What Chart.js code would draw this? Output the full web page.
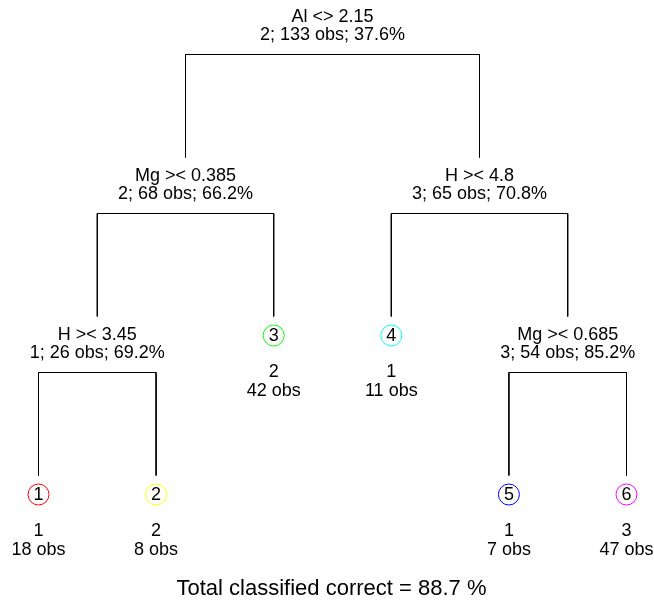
<!DOCTYPE html>
<html><head><meta charset="utf-8">
<script src="https://cdn.jsdelivr.net/npm/chart.js@4/dist/chart.umd.min.js"></script>
<style>html,body{margin:0;padding:0;background:#fff}#wrap{width:654px;height:603px;position:relative}</style>
</head><body><div id="wrap"><canvas id="c"></canvas></div>
<script>
// Tree nodes use R's numbering: children of node n are 2n and 2n+1
const splitNodes = [1, 2, 3, 4, 7];
const splitRules = ["Al <> 2.15", "Mg >< 0.385", "H >< 4.8", "H >< 3.45", "Mg >< 0.685"];
const splitClass = [2, 2, 3, 1, 3];
const splitObs = [133, 68, 65, 26, 54];
const splitPct = ["37.6", "66.2", "70.8", "69.2", "85.2"];

const leafNodes = [8, 9, 5, 6, 14, 15];   // left-to-right
const leafNumbers = [1, 2, 3, 4, 5, 6];
const leafClass = [1, 2, 2, 1, 1, 3];
const leafObs = [18, 8, 42, 11, 7, 47];
const leafColors = ["#FF0000", "#FFFF00", "#00FF00", "#00FFFF", "#0000FF", "#FF00FF"];

const totalCorrect = "88.7";

// ---- layout helpers (from structure) ----
const xPos = {};
leafNodes.forEach((id, i) => { xPos[id] = i + 1; });
function xOf(id) {
  if (xPos[id] !== undefined) return xPos[id];
  const v = (xOf(2 * id) + xOf(2 * id + 1)) / 2;
  xPos[id] = v; return v;
}
const depthOf = id => Math.floor(Math.log2(id));

const LEVEL_PX = 159, TOP_PX = 54.5, UNIT_PX = 117.6, LEFT_PX = 38.5;
const W = 654, H = 603;
const px2lvl = p => p / LEVEL_PX;

const datasets = [];
splitNodes.forEach(p => {
  const l = 2 * p, r = 2 * p + 1, d = depthOf(p);
  const seg = pts => datasets.push({
    type: 'scatter', showLine: true, data: pts, borderColor: '#000', borderWidth: 1,
    pointRadius: 0, pointHoverRadius: 0, fill: false, tension: 0
  });
  seg([{x: xOf(l), y: d}, {x: xOf(r), y: d}]);
  [l, r].forEach(c => seg([{x: xOf(c), y: d}, {x: xOf(c), y: depthOf(c) - px2lvl(56)}]));
});
datasets.push({
  type: 'scatter',
  data: leafNodes.map(id => ({x: xOf(id), y: depthOf(id) - px2lvl(37)})),
  pointRadius: 10.5, pointHoverRadius: 10.5, pointBorderWidth: 1, pointHoverBorderWidth: 1,
  pointBorderColor: leafColors, pointBackgroundColor: 'rgba(255,255,255,0)', showLine: false
});

const FONT = '18px "Liberation Sans", Arial, Helvetica, sans-serif';
const textPlugin = {
  id: 'treeText',
  afterDatasetsDraw(chart) {
    const {ctx, scales: {x, y}} = chart;
    ctx.save();
    ctx.fillStyle = '#000';
    ctx.textAlign = 'center';
    ctx.textBaseline = 'middle';
    ctx.font = FONT;
    splitNodes.forEach((id, i) => {
      const cx = x.getPixelForValue(xOf(id));
      const a = y.getPixelForValue(depthOf(id));
      ctx.fillText(splitRules[i], cx, a - 37);
      ctx.fillText(splitClass[i] + "; " + splitObs[i] + " obs; " + splitPct[i] + "%", cx, a - 19.5);
    });
    leafNodes.forEach((id, i) => {
      const cx = x.getPixelForValue(xOf(id));
      const a = y.getPixelForValue(depthOf(id));
      ctx.fillText(String(leafNumbers[i]), cx, a - 36.5);
      ctx.fillText(String(leafClass[i]), cx, a);
      ctx.fillText(leafObs[i] + " obs", cx, a + 18.5);
    });
    ctx.font = '22px "Liberation Sans", Arial, Helvetica, sans-serif';
    ctx.fillText("Total classified correct = " + totalCorrect + " %", x.getPixelForValue(xOf(1)) - 1, 589);
    ctx.restore();
  }
};

new Chart(document.getElementById('c'), {
  type: 'scatter',
  data: {datasets},
  options: {
    responsive: true, maintainAspectRatio: false, animation: false, devicePixelRatio: 1,
    events: [],
    layout: {padding: 0, autoPadding: false},
    plugins: {legend: {display: false}, tooltip: {enabled: false}},
    scales: {
      x: {type: 'linear', display: false, min: 1 - LEFT_PX / UNIT_PX, max: 1 - LEFT_PX / UNIT_PX + W / UNIT_PX},
      y: {type: 'linear', display: false, reverse: true, min: -TOP_PX / LEVEL_PX, max: (H - TOP_PX) / LEVEL_PX}
    }
  },
  plugins: [textPlugin]
});
</script></body></html>
